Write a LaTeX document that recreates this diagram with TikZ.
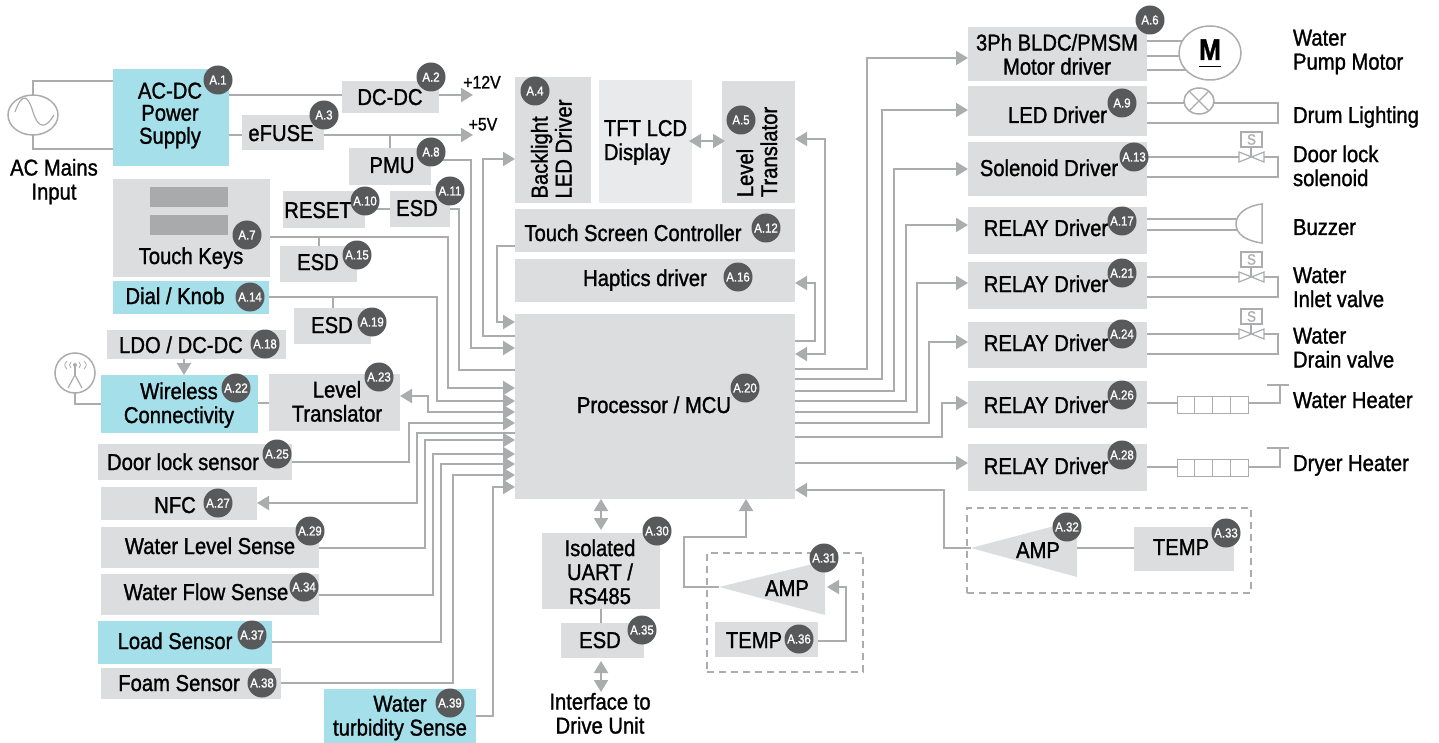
\documentclass[tikz,border=0pt]{standalone}
\usepackage{fontspec}
\setmainfont{Liberation Sans}[FakeStretch=0.88,FakeBold=1.2]
\usepackage{tikz}
\usetikzlibrary{
  calc,
  arrows.meta,
  positioning,
  shapes.geometric
}
\definecolor{boxgray}{HTML}{DCDDDE}
\definecolor{lcdgray}{HTML}{E9EAEB}
\definecolor{keygray}{HTML}{A9AAAC}
\definecolor{boxblue}{HTML}{A4DFEA}
\definecolor{wiregray}{HTML}{ABACAE}
\definecolor{badgegray}{HTML}{58595B}
% text centre given as offset from the node centre
\newcommand{\tat}[3]{\kern#1pt\kern#1pt\raisebox{\dimexpr-8pt-#2pt\relax}[0pt][0pt]{#3}}
\newcommand{\ctab}[1]{\raisebox{-1pt}{\begin{tabular}{@{}c@{}}#1\end{tabular}}}
\newcommand{\ltab}[1]{\raisebox{-1pt}{\begin{tabular}{@{}l@{}}#1\end{tabular}}}
\tikzset{
  valve/.pic={
    \draw [thinwire] (-12,-5) -- (13,5) -- (13,-5) -- (-12,5) -- cycle;
    \draw [thinwire] (0,0) -- (0,-10);
    \node (s) [thinwire, draw, sz={21}{15}, text=wiregray, font=\fontsize{15}{15}\selectfont, inner sep=0pt] at (0.5,-17.5) {S};
  }
}
\begin{document}
\begin{tikzpicture}[
            x=1pt, y=-1pt,
            font=\fontsize{23}{24}\selectfont,
            sz/.style 2 args={minimum width=#1pt, minimum height=#2pt},
            gbox/.style={rectangle, fill=boxgray, inner sep=0pt, outer sep=0pt},
            bbox/.style={rectangle, fill=boxblue, inner sep=0pt, outer sep=0pt},
            txt/.style={inner sep=0pt, outer sep=0pt},
            wire/.style={draw=wiregray, line width=2pt},
            thinwire/.style={draw=wiregray, line width=1.2pt},
            arrow/.style={wire, -{Triangle[length=12pt,width=14pt]}},
            biarrow/.style={wire, {Triangle[length=12pt,width=14pt]}-{Triangle[length=12pt,width=14pt]}},
            sym/.style={ellipse, draw=wiregray, line width=1.5pt, fill=white, inner sep=0pt, outer sep=0pt},
            cell/.style={rectangle, draw=wiregray, line width=1pt, inner sep=0pt, outer sep=0pt, minimum width=17.75pt, minimum height=17pt},
            dashbox/.style={rectangle, draw=wiregray, line width=1.3pt, dash pattern=on 7pt off 5pt},
            badge/.style={circle, fill=badgegray, text=white, minimum size=29pt, inner sep=0pt, font=\fontsize{13}{13}\selectfont}
        ]
        \useasboundingbox (0,0) rectangle (1439,743);

        % Power, left top
        \node (acs) [sym, sz={50}{40}] at (33,115) {};
        \node (acin) [txt] at (54,180) {\tat{0}{0}{\ctab{AC Mains\\Input}}};
        \node (acdc) [bbox, sz={116}{97}] at (171,117.5) {\tat{-1}{-4}{\fontsize{23}{21}\selectfont\ctab{AC-DC\\Power\\Supply}}};
        \node (dcdc) [gbox, sz={97}{32}] at (390.5,97) {\tat{-0.5}{0}{DC-DC}};
        \node (efuse) [gbox, sz={82}{35}] at (283,132.5) {\tat{-2}{0.5}{eFUSE}};
        \node (pmu) [gbox, sz={82}{37}] at (390,166.5) {\tat{2}{-1.5}{PMU}};
        \node (vtw) [txt] at (482,79) {\fontsize{18}{18}\selectfont\tat{0}{1.5}{+12V}};
        \node (vfv) [txt] at (483,121) {\fontsize{18}{18}\selectfont\tat{0}{1.5}{+5V}};
        \coordinate (vtwtip) at (473,95);
        \coordinate (vfvtip) at (473,135);

        % Inputs, left side
        \node (keys) [gbox, sz={157}{98}] at (191.5,228) {\tat{-0.5}{28}{Touch Keys}};
        \node (keya) [rectangle, fill=keygray, sz={78}{20}] at (189,197) {};
        \node (keyb) [rectangle, fill=keygray, sz={78}{20}] at (189,225) {};
        \node (rst) [gbox, sz={82}{37}] at (324,209.5) {\tat{-6}{0.5}{RESET}};
        \node (esda) [gbox, sz={60}{36}] at (420,209) {\tat{-3}{-1}{ESD}};
        \node (esdb) [gbox, sz={77}{36}] at (318.5,264) {\tat{-0.5}{-2}{ESD}};
        \node (dial) [bbox, sz={156}{33}] at (191,297.5) {\tat{-16}{-1.5}{Dial / Knob}};
        \node (esdc) [gbox, sz={77}{36}] at (332.5,326) {\tat{-0.5}{-1}{ESD}};
        \node (ldo) [gbox, sz={179}{29}] at (196.5,344.5) {\tat{-15.5}{0.5}{LDO / DC-DC}};
        \node (ant) [sym, sz={40}{40}] at (75,373) {};
        \node (wifi) [bbox, sz={157}{58}] at (179.5,404) {\tat{-0.5}{-0.5}{\ctab{Wireless\\Connectivity}}};
        \node (lvlb) [gbox, sz={131}{57}] at (334.5,402.5) {\tat{2.5}{-0.5}{\ctab{Level\\Translator}}};
        \node (door) [gbox, sz={194}{36}] at (195,462) {\tat{-12}{0}{Door lock sensor}};
        \node (nfc) [gbox, sz={156}{33}] at (179,503.5) {\tat{-4}{1.5}{NFC}};
        \node (wlev) [gbox, sz={218}{41}] at (210,547.5) {\tat{0}{-1.5}{Water Level Sense}};
        \node (wflow) [gbox, sz={218}{41}] at (210,594.5) {\tat{-4}{-2.5}{Water Flow Sense}};
        \node (load) [bbox, sz={174}{43}] at (185,642.5) {\tat{-10}{-1.5}{Load Sensor}};
        \node (foam) [gbox, sz={180}{31}] at (191,683.5) {\tat{-12}{-0.5}{Foam Sensor}};
        \node (turb) [bbox, sz={152}{54}] at (400,716) {\tat{0}{0}{\ctab{Water\\turbidity Sense}}};

        % Centre blocks
        \node (back) [gbox, rotate=90, sz={126}{76}] at (553,140) {\tat{-9}{-1}{\ltab{Backlight\\LED Driver}}};
        \node (tft) [rectangle, fill=lcdgray, inner sep=0pt, outer sep=0pt, sz={93}{123}] at (645.5,141.5) {\tat{0}{-1}{\ltab{TFT LCD\\Display}}};
        \node (lvla) [gbox, rotate=90, sz={122}{73}] at (758.5,142) {\tat{-10}{-1}{\ltab{Level\\Translator}}};
        \node (tsc) [gbox, sz={280}{43}] at (655,230.5) {\tat{-22}{2.5}{Touch Screen Controller}};
        \node (hap) [gbox, sz={280}{43}] at (655,280.5) {\tat{-10}{-2.5}{Haptics driver}};
        \node (mcu) [gbox, sz={280}{185}] at (655,406.5) {\tat{-1}{-1.5}{Processor / MCU}};
        \node (uart) [gbox, sz={118}{76}] at (601,571) {\tat{-1}{1.5}{\ctab{Isolated\\UART /\\RS485}}};
        \node (esdd) [gbox, sz={83}{35}] at (602.5,640.5) {\tat{-2.5}{-0.5}{ESD}};
        \node (iface) [txt] at (600,714) {\tat{0}{0}{\ctab{Interface to\\Drive Unit}}};
        \coordinate (ifacetop) at (601,692);

        % Amplifiers
        \node (grpa) [dashbox, sz={156}{119}] at (785,612.5) {};
        \node (grpb) [dashbox, sz={284}{85}] at (1109,550.5) {};
        \coordinate (tipa) at (719,587);
        \coordinate (tipb) at (971,548);
        \coordinate (sidea) at (827,587);
        \fill [boxgray] (tipa) -- (825,561) -- (825,615) -- cycle;
        \fill [boxgray] (tipb) -- (1077,520) -- (1077,577) -- cycle;
        \node (ampa) [txt] at (787,588) {\tat{0}{0}{AMP}};
        \node (ampb) [txt] at (1038,550) {\tat{0}{0}{AMP}};
        \coordinate (ampbside) at (1077,548);
        \node (tempa) [gbox, sz={103}{35}] at (766.5,639.5) {\tat{-12.5}{0.5}{TEMP}};
        \node (tempb) [gbox, sz={100}{44}] at (1184,549) {\tat{-3}{-2}{TEMP}};

        % Drivers, right side
        \node (mot) [gbox, sz={179}{54}] at (1057.5,54) {\tat{-0.5}{1}{\ctab{3Ph BLDC/PMSM\\Motor driver}}};
        \node (led) [gbox, sz={179}{50}] at (1057.5,111) {\tat{0}{4}{LED Driver}};
        \node (sol) [gbox, sz={179}{54}] at (1057.5,169) {\tat{-8.5}{-1}{Solenoid Driver}};
        \node (rela) [gbox, sz={179}{47}] at (1057.5,230.5) {\tat{-11.5}{-2.5}{RELAY Driver}};
        \node (relb) [gbox, sz={179}{47}] at (1057.5,285.5) {\tat{-11.5}{-1.5}{RELAY Driver}};
        \node (relc) [gbox, sz={179}{46}] at (1057.5,345) {\tat{-11.5}{-2}{RELAY Driver}};
        \node (reld) [gbox, sz={179}{47}] at (1057.5,404.5) {\tat{-11.5}{0.5}{RELAY Driver}};
        \node (rele) [gbox, sz={179}{47}] at (1057.5,467.5) {\tat{-11.5}{-1.5}{RELAY Driver}};

        % Loads
        \node (motor) [sym, sz={62}{54}] at (1210,53) {\tat{0}{-1}{\fontsize{30}{30}\selectfont\bfseries\underline{M\rule[-5pt]{0pt}{5pt}}}};
        \node (lamp) [sym, sz={30}{26}] at (1199,101) {};
        \coordinate (vala) at (1251,157);
        \coordinate (valb) at (1251,277);
        \coordinate (valc) at (1251,334);
        \node (hda) [cell] at (1185.875,404.5) {};
        \node (hdb) [cell, right=0pt of hda] {};
        \node (hdc) [cell, right=0pt of hdb] {};
        \node (hdd) [cell, right=0pt of hdc] {};
        \node (hea) [cell] at (1185.875,468) {};
        \node (heb) [cell, right=0pt of hea] {};
        \node (hec) [cell, right=0pt of heb] {};
        \node (hed) [cell, right=0pt of hec] {};
        \coordinate (teed) at (1280,385);
        \coordinate (teee) at (1280,448);
        \coordinate (bzla) at (1237,219);
        \coordinate (bzlb) at (1237,230);

        \node (lmot) [txt, anchor=west] at (1293,50) {\tat{0}{0}{\ltab{Water\\Pump Motor}}};
        \node (llamp) [txt, anchor=west] at (1293,115) {\tat{0}{0}{Drum Lighting}};
        \node (lsol) [txt, anchor=west] at (1293,166.5) {\tat{0}{0}{\ltab{Door lock\\solenoid}}};
        \node (lbuz) [txt, anchor=west] at (1293,227) {\tat{0}{0}{Buzzer}};
        \node (linl) [txt, anchor=west] at (1293,287.5) {\tat{0}{0}{\ltab{Water\\Inlet valve}}};
        \node (ldrn) [txt, anchor=west] at (1293,348) {\tat{0}{0}{\ltab{Water\\Drain valve}}};
        \node (lhtw) [txt, anchor=west] at (1293,400) {\tat{0}{0}{Water Heater}};
        \node (lhtd) [txt, anchor=west] at (1293,463) {\tat{0}{0}{Dryer Heater}};

        % AC source and antenna symbols
        \draw [thinwire] (15,112) .. controls (22,92) and (28,95) .. (33,112) .. controls (38,128) and (45,130) .. (54,115);
        \draw [thinwire] (68,388) -- (75,375) -- (82,388);
        \draw [thinwire] (75,375) -- (75,365);
        \fill [wiregray] (75,365) circle (2);
        \draw [draw=wiregray, line width=0.8pt] (67,361) .. controls (64,364) and (64,366) .. (67,369);
        \draw [draw=wiregray, line width=0.8pt] (71,362) .. controls (69,364) and (69,366) .. (71,368);
        \draw [draw=wiregray, line width=0.8pt] (79,362) .. controls (81,364) and (81,366) .. (79,368);
        \draw [draw=wiregray, line width=0.8pt] (84,361) .. controls (87,364) and (87,366) .. (84,369);
        \draw [thinwire] (lamp.45) -- (lamp.225);
        \draw [thinwire] (lamp.135) -- (lamp.315);

        % Power wires
        \draw [wire] (acs.north) |- (acdc.west |- 0,81);
        \draw [wire] (acs.south) |- (acdc.west |- 0,149);
        \draw [wire] (acdc.east |- 0,95) -- (dcdc.west |- 0,95);
        \draw [arrow] (dcdc.east |- 0,95) -- (vtwtip);
        \draw [wire] (acdc.east |- 0,135) -- (efuse.west |- 0,135);
        \draw [arrow] (efuse.east |- 0,135) -- (vfvtip);
        \draw [wire] (pmu.north |- 0,135) -- (pmu.north);
        \draw [arrow] (pmu.east |- 0,160) -| (471,348) -- (mcu.west |- 0,348);

        % Left side of the MCU
        \draw [wire] (rst.east |- 0,209) -- (esda.west |- 0,209);
        \draw [wire] (esda.east |- 0,209) -| (459,370) -- (mcu.west |- 0,370);
        \draw [arrow] (keys.east |- 0,237) -| (448,388) -- (mcu.west |- 0,388);
        \draw [wire] (esdb.north |- 0,237) -- (esdb.north);
        \draw [arrow] (dial.east |- 0,297) -| (437,401) -- (mcu.west |- 0,401);
        \draw [wire] (esdc.north |- 0,297) -- (esdc.north);
        \draw [arrow] (ldo.south -| 184,0) -- (wifi.north -| 184,0);
        \draw [wire] (ant.south) |- (wifi.west |- 0,404);
        \draw [wire] (wifi.east |- 0,403) -- (lvlb.west |- 0,403);
        \draw [biarrow] (mcu.west |- 0,412) -| (428,396) -- (lvlb.east |- 0,396);
        \draw [arrow] (door.east |- 0,462) -| (409,423) -- (mcu.west |- 0,423);
        \draw [arrow] (mcu.west |- 0,433) -| (417,503) -- (nfc.east |- 0,503);
        \draw [arrow] (wlev.east |- 0,548) -| (425,440) -- (mcu.west |- 0,440);
        \draw [arrow] (wflow.east |- 0,595) -| (433,454) -- (mcu.west |- 0,454);
        \draw [arrow] (load.east |- 0,642) -| (441,464) -- (mcu.west |- 0,464);
        \draw [arrow] (foam.east |- 0,683) -| (453,475) -- (mcu.west |- 0,475);
        \draw [arrow] (turb.east |- 0,716) -| (493,487) -- (mcu.west |- 0,487);
        \draw [arrow] (mcu.west |- 0,336) -| (483,159) -- (back.north |- 0,159);
        \draw [arrow] (tsc.west |- 0,246) -| (497,322) -- (mcu.west |- 0,322);

        % Centre wires
        \draw [biarrow, shorten <=-3pt, shorten >=-3pt] (tft.east |- 0,141) -- (lvla.north |- 0,141);
        \draw [arrow] (mcu.east |- 0,341) -| (815,283) -- (hap.east |- 0,283);
        \draw [biarrow] (mcu.east |- 0,354) -| (825,139) -- (lvla.south |- 0,139);
        \draw [biarrow, shorten >=3pt] (mcu.south -| uart.north) -- (uart.north);
        \draw [wire] (uart.south) -- (esdd.north -| uart.south);
        \draw [biarrow, shorten <=3pt] (esdd.south -| uart.south) -- (ifacetop);
        \draw [arrow] (tipa) -| (684,537) -- (746,537) -- (mcu.south -| 746,0);
        \draw [arrow] (tempa.east |- 0,641) -| (846,587) -- (sidea);
        \draw [arrow] (tipb) -- (944,548) |- (mcu.east |- 0,490);
        \draw [wire] (ampbside) -- (tempb.west |- 0,548);

        % Right side of the MCU
        \draw [arrow] (mcu.east |- 0,369) -| (867,58) -- (mot.west |- 0,58);
        \draw [arrow] (mcu.east |- 0,379) -| (882,110) -- (led.west |- 0,110);
        \draw [arrow] (mcu.east |- 0,391) -| (894,169) -- (sol.west |- 0,169);
        \draw [arrow] (mcu.east |- 0,401) -| (906,225) -- (rela.west |- 0,225);
        \draw [arrow] (mcu.east |- 0,412) -| (917,283) -- (relb.west |- 0,283);
        \draw [arrow] (mcu.east |- 0,423) -| (929,342) -- (relc.west |- 0,342);
        \draw [arrow] (mcu.east |- 0,437) -| (942,403) -- (reld.west |- 0,403);
        \draw [arrow] (mcu.east |- 0,463) -- (rele.west |- 0,463);

        % Wires to the loads
        \draw [wire] (mot.east |- motor.157) -- (motor.157);
        \draw [wire] (mot.east |- 0,56) -- (motor.west |- 0,56);
        \draw [wire] (mot.east |- motor.215) -- (motor.215);
        \draw [wire] (led.east |- 0,103) -- (lamp.west |- 0,103);
        \draw [wire] (lamp.east |- 0,103) -| (1278,123) -- (led.east |- 0,123);

        \pic at (vala) {valve};
        \draw [wire] (sol.east |- vala) -- ([xshift=-12pt]vala);
        \draw [wire] ([xshift=13pt]vala) -| (1278,177) -- (sol.east |- 0,177);
        \pic at (valb) {valve};
        \draw [wire] (relb.east |- valb) -- ([xshift=-12pt]valb);
        \draw [wire] ([xshift=13pt]valb) -| (1278,297) -- (relb.east |- 0,297);
        \pic at (valc) {valve};
        \draw [wire] (relc.east |- valc) -- ([xshift=-12pt]valc);
        \draw [wire] ([xshift=13pt]valc) -| (1278,354) -- (relc.east |- 0,354);

        \draw [thinwire] (rela.east |- bzla) -- (bzla);
        \draw [thinwire] (rela.east |- bzlb) -- (bzlb);
        \draw [wire, line width=1.5pt] (1262,204) .. controls (1246,206) and (1236,214) .. (1236,224) .. controls (1236,234) and (1246,241) .. (1262,243) -- cycle;

        \draw [wire] (reld.east |- 0,403) -- (hda.west |- 0,403);
        \draw [thinwire] (hdd.east |- 0,403) -| (teed);
        \draw [thinwire] (1267,385) -- (1289,385);
        \draw [wire] (rele.east |- 0,467) -- (hea.west |- 0,467);
        \draw [thinwire] (hed.east |- 0,467) -| (teee);
        \draw [thinwire] (1267,448) -- (1289,448);

        % Badges
        \node (ba) [badge] at (218,80) {A.1};
        \node (bb) [badge] at (431,77) {A.2};
        \node (bc) [badge] at (324,115) {A.3};
        \node (bd) [badge] at (535,91) {A.4};
        \node (be) [badge] at (741,120) {A.5};
        \node (bf) [badge] at (1150,20) {A.6};
        \node (bg) [badge] at (247,235) {A.7};
        \node (bh) [badge] at (431,152) {A.8};
        \node (bi) [badge] at (1122,103) {A.9};
        \node (bj) [badge] at (365,201) {A.10};
        \node (bk) [badge] at (450,191) {A.11};
        \node (bl) [badge] at (766,228) {A.12};
        \node (bm) [badge] at (1134,157) {A.13};
        \node (bn) [badge] at (250,297) {A.14};
        \node (bo) [badge] at (357,255) {A.15};
        \node (bp) [badge] at (738,277) {A.16};
        \node (bq) [badge] at (1122,221) {A.17};
        \node (br) [badge] at (265,344) {A.18};
        \node (bs) [badge] at (372,322) {A.19};
        \node (bt) [badge] at (745,388) {A.20};
        \node (bu) [badge] at (1122,273) {A.21};
        \node (bv) [badge] at (236,388) {A.22};
        \node (bw) [badge] at (379,377) {A.23};
        \node (bx) [badge] at (1122,334) {A.24};
        \node (by) [badge] at (277,454) {A.25};
        \node (bz) [badge] at (1122,395) {A.26};
        \node (caa) [badge] at (218,503) {A.27};
        \node (cab) [badge] at (1122,455) {A.28};
        \node (cac) [badge] at (310,531) {A.29};
        \node (cad) [badge] at (657,531) {A.30};
        \node (cae) [badge] at (824,558) {A.31};
        \node (caf) [badge] at (1067,527) {A.32};
        \node (cag) [badge] at (1226,533) {A.33};
        \node (cah) [badge] at (304,587) {A.34};
        \node (cai) [badge] at (642,630) {A.35};
        \node (caj) [badge] at (799,639) {A.36};
        \node (cak) [badge] at (252,635) {A.37};
        \node (cal) [badge] at (262,683) {A.38};
        \node (cam) [badge] at (450,703) {A.39};

    \end{tikzpicture}
\end{document}
